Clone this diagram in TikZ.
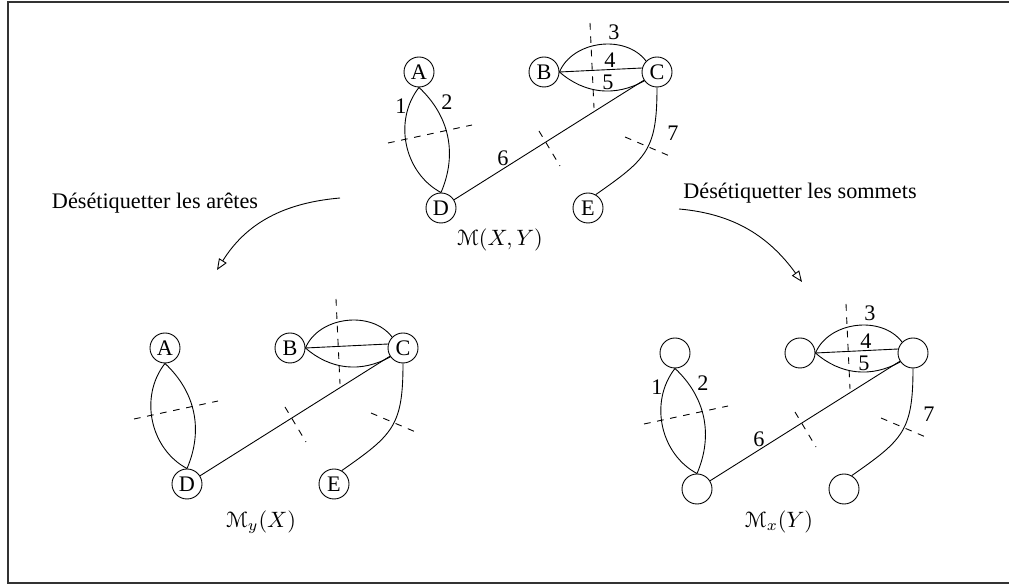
\documentclass[tikz,border=0pt]{standalone}
\usepackage[mathcal]{eucal}
\usepackage{fontspec}
\setmainfont{Liberation Serif}
\usetikzlibrary{arrows.meta}
\tikzset{
  sommet/.style={circle, draw, minimum size=13.5pt, inner sep=0pt},
  etiq/.style={inner sep=0pt},
  coupe/.style={dashed},
  fleche/.style={-{Triangle[open, length=5pt, width=4pt]}},
  cadre/.style={line width=0.9pt, draw=black!80},
}
% #1 prefixe, #2 decalage, #3 noms des sommets (1/0), #4 numeros des aretes (1/0)
\newcommand{\graphe}[4]{%
  \begin{scope}[shift={#2}]
    \node[sommet] (#1A) at (419,-72) {\ifnum#3=1 A\fi};
    \node[sommet] (#1B) at (544,-72) {\ifnum#3=1 B\fi};
    \node[sommet] (#1C) at (657,-72) {\ifnum#3=1 C\fi};
    \node[sommet] (#1D) at (441,-208) {\ifnum#3=1 D\fi};
    \node[sommet] (#1E) at (588,-208) {\ifnum#3=1 E\fi};

    \draw (#1A.south) to[bend right=50] (#1D.north);
    \draw (#1A.south) to[bend left=35] (#1D.north);
    \draw (#1B.east) to[bend left=60] (#1C.135);
    \draw (#1B.east) -- (#1C.165);
    \draw (#1B.east) to[bend right=35] (#1C.215);
    \draw (#1D) -- (#1C);
    \draw (#1C.south) to[out=-90, in=35, looseness=1.3] (#1E.60);

    % coupes
    \draw[coupe] (388,-143) -- (472,-125);
    \draw[coupe] (590,-23) -- (594,-108);
    \draw[coupe] (539,-131) -- (560,-166);
    \draw[coupe] (625,-137) -- (672,-157);

    \ifnum#4=1
      \node[etiq] at (401,-106) {1};
      \node[etiq] at (447,-102) {2};
      \node[etiq] at (614,-32) {3};
      \node[etiq] at (610,-60) {4};
      \node[etiq] at (608,-82) {5};
      \node[etiq] at (503,-158) {6};
      \node[etiq] at (673,-133) {7};
    \fi
  \end{scope}}

\begin{document}
\begin{tikzpicture}[x=0.45pt, y=0.45pt]
  \useasboundingbox (0,0) rectangle (1009,-585);
  \draw[cadre] (8,-2) rectangle (1014,-583);

  \graphe{h}{(0,0)}{1}{1}
  \graphe{g}{(-254,-276)}{1}{0}
  \graphe{d}{(256,-281)}{0}{1}

  \node (mh) at (500,-240) {$\mathcal{M}(X,Y)$};
  \node (mg) at (261,-522) {$\mathcal{M}_y(X)$};
  \node (md) at (779,-522) {$\mathcal{M}_x(Y)$};

  % transformations
  \node (tg) at (155,-203) {Désétiquetter les arêtes};
  \node (td) at (800,-193) {Désétiquetter les sommets};
  \coordinate (g1) at (340,-198);
  \coordinate (g2) at (217,-270);
  \coordinate (d1) at (679,-209);
  \coordinate (d2) at (802,-282);
  \draw[fleche] (g1) to[out=185, in=58] (g2);
  \draw[fleche] (d1) to[out=-5, in=126] (d2);
\end{tikzpicture}
\end{document}
